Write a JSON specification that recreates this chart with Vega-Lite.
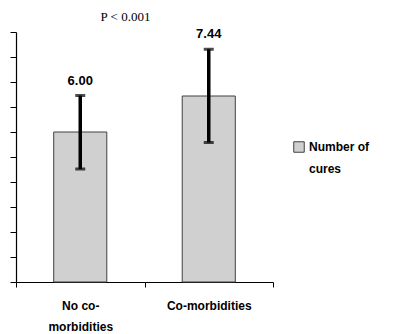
{
  "$schema": "https://vega.github.io/schema/vega-lite/v6.json",
  "width": 257,
  "height": 250,
  "autosize": {"type": "none"},
  "padding": {"left": 16, "top": 32, "right": 122, "bottom": 52},
  "background": "white",
  "config": {"view": {"stroke": null}, "style": {"guide-label": {"lineHeight": 22}}},
  "title": {"text": "P < 0.001", "font": "Liberation Serif", "fontSize": 13, "fontWeight": "normal", "color": "#000000", "anchor": "middle", "dx": -19, "offset": 4},
  "data": {"values": [
    {"group": "No co-morbidities", "mean": 6.00, "lower": 4.52, "upper": 7.46, "series": "Number of cures", "label": "6.00"},
    {"group": "Co-morbidities", "mean": 7.44, "lower": 5.58, "upper": 9.31, "series": "Number of cures", "label": "7.44"}
  ]},
  "encoding": {
    "x": {"field": "group", "type": "nominal", "sort": null,
      "scale": {"paddingInner": 0, "paddingOuter": 0},
      "axis": {"title": null, "labelAngle": 0, "tickBand": "extent", "domainColor": "#000000", "domainWidth": 1.2, "tickColor": "#000000", "tickSize": 5,
        "labelFont": "Liberation Sans", "labelFontWeight": "bold", "labelFontSize": 12, "labelColor": "#000000", "labelPadding": 13, "labelLineHeight": 21,
        "labelExpr": "datum.label == 'No co-morbidities' ? ['No co-', 'morbidities'] : datum.label"}}
  },
  "layer": [
    {"mark": {"type": "bar", "width": {"band": 0.413}, "stroke": "#404040", "strokeWidth": 1},
      "encoding": {
        "y": {"field": "mean", "type": "quantitative", "scale": {"domain": [0, 10], "nice": false},
          "axis": {"title": null, "labels": false, "grid": false, "tickCount": 10, "domainColor": "#000000", "domainWidth": 1.2, "tickColor": "#000000", "tickSize": 6}},
        "color": {"field": "series", "type": "nominal", "scale": {"range": ["#d0d0d0"]},
          "legend": {"orient": "none", "legendX": 277, "legendY": 109, "title": null, "symbolType": "square", "symbolSize": 110, "symbolStrokeColor": "#404040", "symbolStrokeWidth": 1,
            "labelFont": "Liberation Sans", "labelFontWeight": "bold", "labelFontSize": 12, "labelColor": "#000000", "labelExpr": "['Number of', 'cures']"}}
      }},
    {"mark": {"type": "rule", "color": "#000000", "strokeWidth": 3.5},
      "encoding": {"y": {"field": "lower", "type": "quantitative"}, "y2": {"field": "upper"}}},
    {"mark": {"type": "tick", "color": "#000000", "thickness": 3, "size": 10},
      "encoding": {"y": {"field": "upper", "type": "quantitative"}}},
    {"mark": {"type": "tick", "color": "#000000", "thickness": 3, "size": 10},
      "encoding": {"y": {"field": "lower", "type": "quantitative"}}},
    {"mark": {"type": "text", "dy": -15, "font": "Liberation Sans", "fontWeight": "bold", "fontSize": 13, "color": "#000000"},
      "encoding": {"y": {"field": "upper", "type": "quantitative"}, "text": {"field": "label"}}}
  ]
}
